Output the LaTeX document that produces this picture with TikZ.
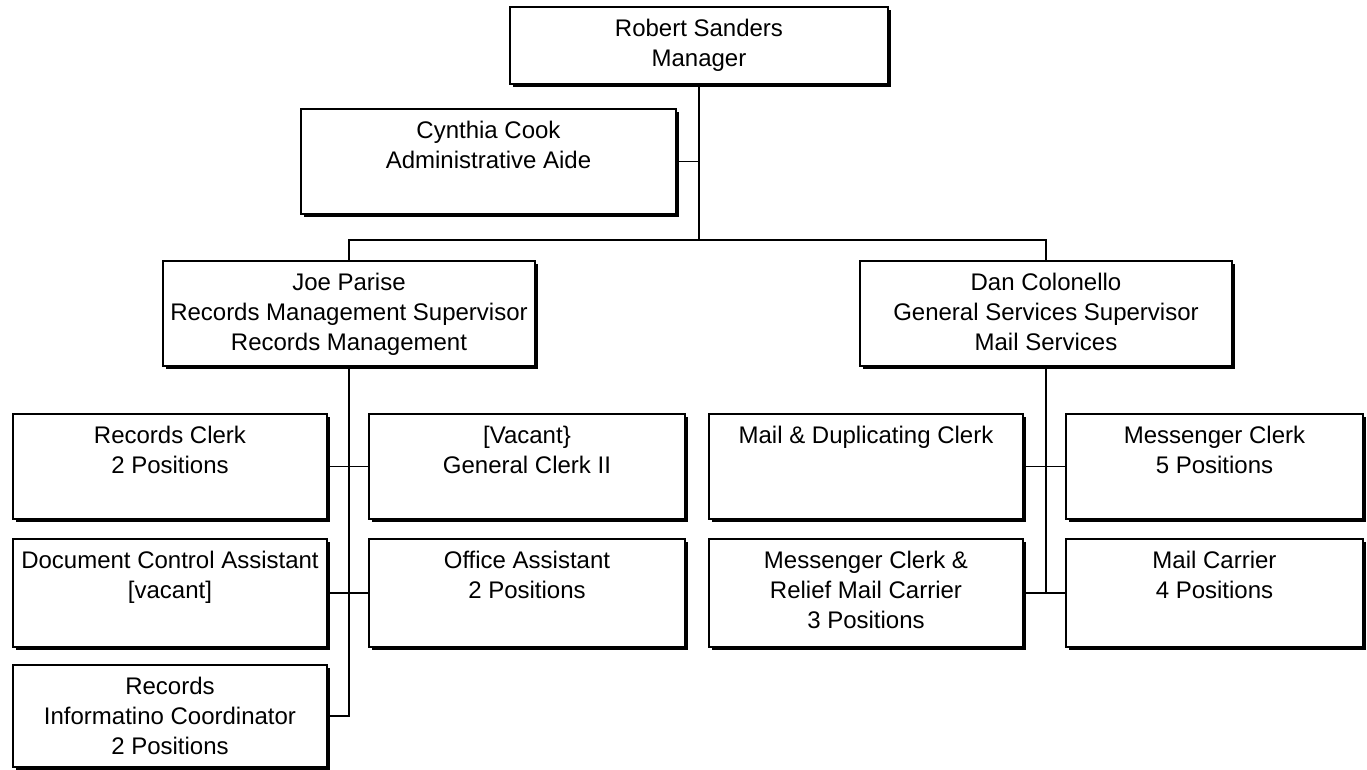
\documentclass[tikz,border=0pt]{standalone}
\usepackage{fontspec}
\setmainfont{Liberation Sans}
\usepackage{tikz}
\usetikzlibrary{calc, positioning, shadows}
\newdimen\unitpx
\unitpx=0.02cm
% box text: width, height (px), lines
\newcommand{\orgtext}[3]{\parbox[c][#2\unitpx][t]{#1\unitpx}{\centering\rule{0pt}{30\unitpx}#3}}

\begin{document}
\begin{tikzpicture}[
    x=0.02cm, y=-0.02cm,
    unit/.style={rectangle, draw, line width=1.1pt, fill=white, inner sep=0pt, anchor=north west,
        font=\fontsize{0.48cm}{0.6cm}\selectfont,
        drop shadow={shadow xshift=0.06cm, shadow yshift=-0.06cm, opacity=1, fill=black}},
    link/.style={line width=1.1pt}
]
    \useasboundingbox (0,0) rectangle (1367,769);

    % Leitung
    \node[unit] (rs) at (509,6) {\orgtext{378}{77}{Robert Sanders\\Manager}};
    \node[unit] (cc) at (300,108) {\orgtext{375}{105}{Cynthia Cook\\Administrative Aide}};

    % Supervisors
    \node[unit] (jp) at (162,260) {\orgtext{372}{105}{Joe Parise\\Records Management Supervisor\\Records Management}};
    \node[unit] (dc) at (859,260) {\orgtext{372}{105}{Dan Colonello\\General Services Supervisor\\Mail Services}};

    % Records Management
    \node[unit] (rc) at (12,413) {\orgtext{314}{105}{Records Clerk\\2 Positions}};
    \node[unit] (gc) at (368,413) {\orgtext{316}{105}{[Vacant\}\\General Clerk II}};
    \node[unit] (dca) at (12,538) {\orgtext{314}{108}{Document Control Assistant\\{[}vacant]}};
    \node[unit] (oa) at (368,538) {\orgtext{316}{108}{Office Assistant\\2 Positions}};
    \node[unit] (ric) at (12,664) {\orgtext{314}{102}{Records\\Informatino Coordinator\\2 Positions}};

    % Mail Services
    \node[unit] (mdc) at (708,413) {\orgtext{314}{105}{Mail \& Duplicating Clerk}};
    \node[unit] (mc) at (1065,413) {\orgtext{297}{105}{Messenger Clerk\\5 Positions}};
    \node[unit] (mcr) at (708,538) {\orgtext{314}{108}{Messenger Clerk \&\\Relief Mail Carrier\\3 Positions}};
    \node[unit] (mca) at (1065,538) {\orgtext{297}{108}{Mail Carrier\\4 Positions}};

    % Verbindungen
    \draw[link] (jp.north) -- ++(0,-20) coordinate (bus) -| (dc.north);
    \draw[link] (rs.south) -- (rs.south |- bus);
    \draw[link] (cc.east) -- (cc.east -| rs.south);

    \draw[link] (jp.south) -- (jp.south |- ric.east) -- (ric.east);
    \draw[link] (rc.east) -- (gc.west);
    \draw[link] (dca.east) -- (oa.west);

    \draw[link] (dc.south) -- (dc.south |- mcr.east);
    \draw[link] (mdc.east) -- (mc.west);
    \draw[link] (mcr.east) -- (mca.west);
\end{tikzpicture}
\end{document}
